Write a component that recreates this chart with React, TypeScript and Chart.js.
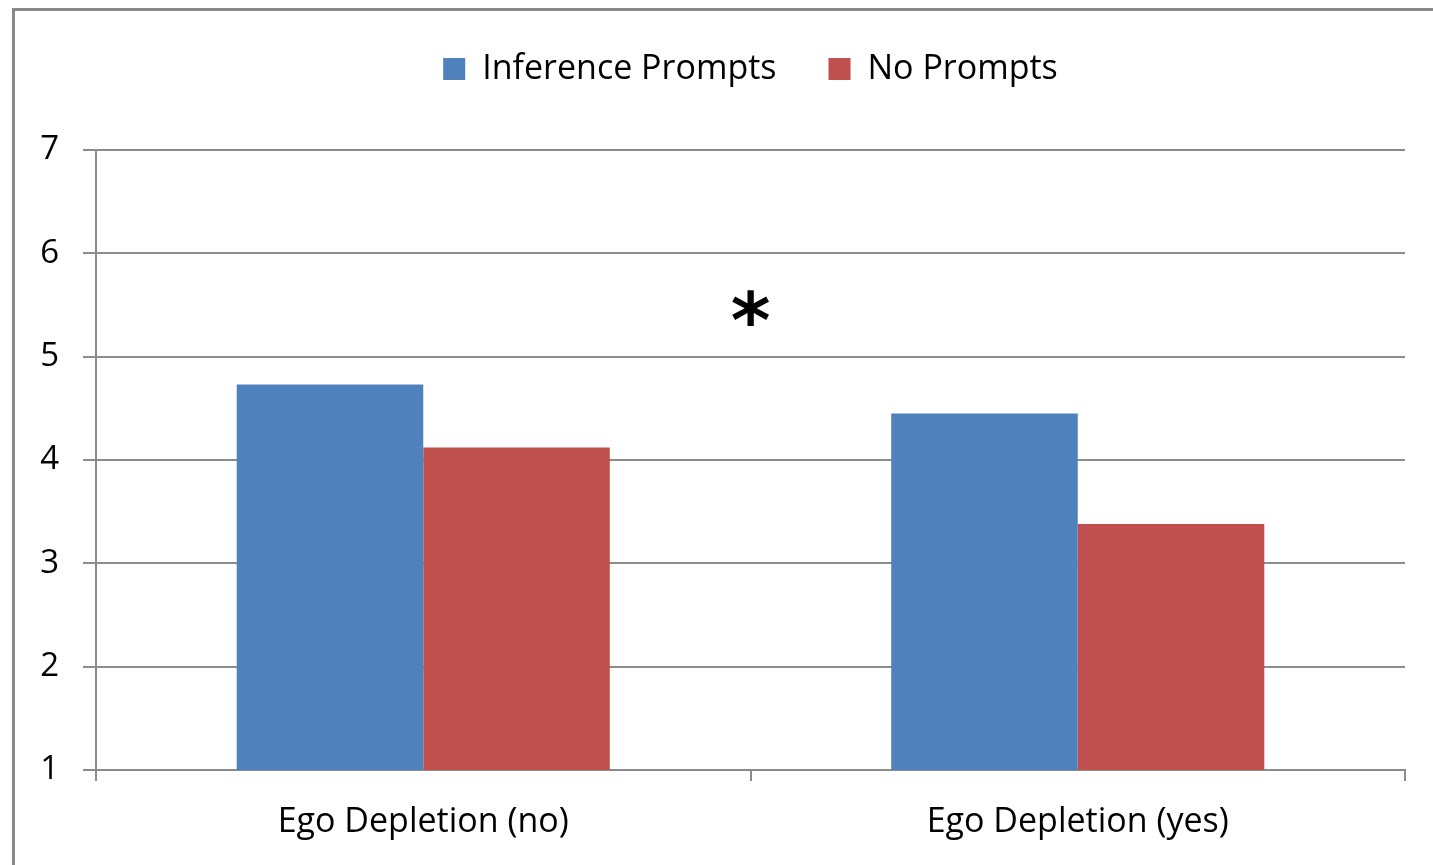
import React, { useEffect, useRef } from "react";
import { Chart, registerables } from "chart.js";

Chart.register(...registerables);

const categories = ["Ego Depletion (no)", "Ego Depletion (yes)"];
const seriesNames = ["Inference Prompts", "No Prompts"];
const inferencePrompts = [4.73, 4.45];
const noPrompts = [4.12, 3.38];
const yMin = 1;
const yMax = 7;
const yStep = 1;
const markText = "*";
const markValue = 5.47;

const BLUE = "#4F81BD";
const RED = "#C0504D";
const GRID = "#8c8c8c";
const FONT = "'Open Sans', Lato, sans-serif";

const asteriskPlugin = {
  id: "asterisk",
  afterDatasetsDraw(chart: any) {
    const { ctx, chartArea, scales } = chart;
    const x = (chartArea.left + chartArea.right) / 2;
    const y = scales.y.getPixelForValue(markValue);
    ctx.save();
    ctx.font = "bold 76px 'DejaVu Sans', sans-serif";
    ctx.fillStyle = "#000";
    ctx.textAlign = "center";
    ctx.textBaseline = "alphabetic";
    const m = ctx.measureText(markText);
    const off = (m.actualBoundingBoxAscent - m.actualBoundingBoxDescent) / 2;
    ctx.fillText(markText, x, y + off);
    ctx.restore();
  },
};

export default function App() {
  const ref = useRef<HTMLCanvasElement>(null);
  useEffect(() => {
    if (!ref.current) return;
    const chart = new Chart(ref.current, {
      type: "bar",
      data: {
        labels: categories,
        datasets: [
          {
            label: seriesNames[0],
            data: inferencePrompts,
            backgroundColor: BLUE,
            borderWidth: 0,
            categoryPercentage: 0.57,
            barPercentage: 1,
          },
          {
            label: seriesNames[1],
            data: noPrompts,
            backgroundColor: RED,
            borderWidth: 0,
            categoryPercentage: 0.57,
            barPercentage: 1,
          },
        ],
      },
      plugins: [asteriskPlugin],
      options: {
        animation: false,
        responsive: false,
        devicePixelRatio: 1,
        layout: { padding: { left: 20, right: 28, top: 0, bottom: 0 } },
        plugins: {
          tooltip: { enabled: false },
          title: {
            display: true,
            text: "",
            weight: 500,
            fullSize: false,
            font: { size: 10, lineHeight: 1 },
            padding: { top: 44, bottom: 0 },
          },
          legend: {
            position: "top",
            fullSize: false,
            labels: {
              boxWidth: 22,
              boxHeight: 22,
              padding: 52,
              color: "#000",
              font: { family: FONT, size: 34 },
            },
          },
        },
        scales: {
          x: {
            afterFit: (s: any) => {
              s.height = 95;
            },
            grid: {
              offset: true,
              drawOnChartArea: false,
              drawTicks: true,
              tickLength: 11,
              color: GRID,
              lineWidth: 2,
            },
            border: { display: true, color: GRID, width: 2 },
            ticks: {
              color: "#000",
              padding: 21,
              font: { family: FONT, size: 34 },
            },
          },
          y: {
            min: yMin,
            max: yMax,
            afterFit: (s: any) => {
              s.width = 76;
            },
            grid: {
              color: GRID,
              lineWidth: 2,
              tickLength: 13,
            },
            border: { display: true, color: GRID, width: 2 },
            ticks: {
              stepSize: yStep,
              color: "#000",
              padding: 24,
              font: { family: FONT, size: 33 },
            },
          },
        },
      },
    });
    return () => chart.destroy();
  }, []);

  return (
    <div
      style={{
        position: "fixed",
        left: 0,
        top: 0,
        width: 1433,
        height: 865,
        background: "#fff",
        overflow: "hidden",
      }}
    >
      <div
        style={{
          position: "absolute",
          left: 12,
          top: 8,
          width: 1600,
          height: 1000,
          border: "3px solid #888",
          boxSizing: "border-box",
        }}
      />
      <canvas
        ref={ref}
        width={1433}
        height={865}
        style={{ position: "absolute", left: 0, top: 0, width: 1433, height: 865 }}
      />
    </div>
  );
}
